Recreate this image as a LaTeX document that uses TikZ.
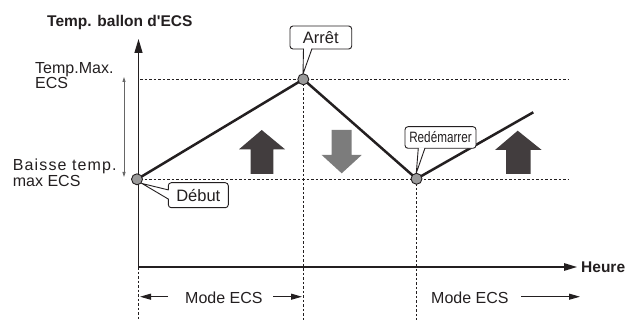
\documentclass[tikz,border=0pt]{standalone}
\usepackage{fontspec}
\setmainfont{Liberation Sans}
\newfontfamily\narrowfont[FakeStretch=0.78]{Liberation Sans}
\newfontfamily\plainfont{Liberation Sans}
\usetikzlibrary{arrows.meta}
\definecolor{darkarrow}{HTML}{423D3E}
\definecolor{grayarrow}{HTML}{7C7C7C}
\definecolor{ptgray}{HTML}{9A9A9A}
\definecolor{ink}{HTML}{231F20}
\begin{document}
\begin{tikzpicture}[x=1pt,y=-1pt,
  lbl/.style={anchor=base west,inner sep=0,text=ink,font=\fontsize{16}{16}\selectfont},
  boldlbl/.style={anchor=base west,inner sep=0,text=ink,font=\fontsize{15.5}{15.5}\selectfont\plainfont\bfseries},
  axis/.style={ink,line width=1.3pt},
  guide/.style={ink,line width=0.9pt,dash pattern=on 2.5pt off 2pt},
  curve/.style={ink,line width=2.5pt,line join=miter},
  pt/.style={circle,fill=ptgray,draw=ink,line width=0.9pt,minimum size=11pt,inner sep=0},
  callbox/.style={fill=white,draw=ink,line width=0.9pt,rounded corners=3pt},
  calltail/.style={draw=ink,line width=0.9pt},
  modearrow/.style={ink,line width=1pt,-{Triangle[length=11pt,width=6pt]}},
  blockup/.style={fill=darkarrow},
  blockdown/.style={fill=grayarrow}
]
\useasboundingbox (0,0) rectangle (626,320);

% coordinates
\coordinate (O) at (138.5,267);
\coordinate (ytop) at (138.5,39);
\coordinate (xend) at (577,267);
\coordinate (start) at (137,179.3);
\coordinate (stop) at (303.3,79.3);
\coordinate (restart) at (416.5,178.8);
\coordinate (lineend) at (533.3,112.3);

% guide lines
\coordinate (gt0) at (140,79.3);
\coordinate (gt1) at (568,79.3);
\coordinate (gb0) at (140,179.3);
\coordinate (gb1) at (568,179.3);
\draw[guide] (gt0) -- (gt1);
\draw[guide] (gb0) -- (gb1);
\coordinate (v1b) at (138.5,320);
\coordinate (v2b) at (303.3,320);
\coordinate (v3b) at (416.5,320);
\draw[guide] (O) -- (v1b);
\draw[guide] (stop) -- (v2b);
\draw[guide] (restart) -- (v3b);

% axes
\draw[axis,-{Triangle[length=14pt,width=8pt]}] (O) -- (ytop);
\draw[axis,-{Triangle[length=13pt,width=7.5pt]}] (O) -- (xend);

% thin double arrow
\coordinate (da1) at (124,177);
\coordinate (da2) at (124,77);
\draw[gray!80!black,line width=0.8pt,{Triangle[length=5pt,width=3pt]}-{Triangle[length=5pt,width=3pt]}] (da1) -- (da2);

% block arrows
\fill[blockup] (261.7,130) -- (285,149.3) -- (273.3,149.3) -- (273.3,174) -- (250.7,174) -- (250.7,149.3) -- (239,149.3) -- cycle;
\fill[blockdown] (341.7,173.3) -- (361.7,155) -- (351.7,155) -- (351.7,130) -- (331.7,130) -- (331.7,155) -- (321.7,155) -- cycle;
\fill[blockup] (517.7,130.7) -- (541.7,150) -- (530.7,150) -- (530.7,174) -- (506,174) -- (506,150) -- (495,150) -- cycle;

% main curve
\draw[curve] (start) -- (stop) -- (restart) -- (lineend);

% callouts
\draw[callbox] (290,26) rectangle (351.7,49);
\fill[white] (303.5,48) -- (303,74) -- (312,48) -- cycle;
\draw[calltail] (303.5,48.6) -- (303,74) -- (312,48.6);
\node[inner sep=0,text=ink,font=\fontsize{16.5}{16.5}\selectfont] (arret) at (320.8,37.5) {Arrêt};

\draw[callbox] (405,126.7) rectangle (476,148.3);
\fill[white] (418.3,147.5) -- (416.3,173) -- (425,147.5) -- cycle;
\draw[calltail] (418.3,148) -- (416.3,173) -- (425,148);
\node[inner sep=0,text=ink,font=\fontsize{15}{15}\narrowfont] (redem) at (440.5,137.5) {Redémarrer};

\draw[callbox] (168.3,182.7) rectangle (228.3,207.7);
\fill[white] (169.2,190) -- (142,183.5) -- (169.2,199.3) -- cycle;
\draw[calltail] (168.7,190) -- (142,183.5) -- (168.7,199.3);
\node[inner sep=0,text=ink,font=\fontsize{16.5}{16.5}\selectfont] (debut) at (198.3,195.2) {Début};

% points
\node[pt] (pstart) at (start) {};
\node[pt] (pstop) at (stop) {};
\node[pt] (prestart) at (restart) {};

% labels
\node[boldlbl] (title) at (47,26.7) {Temp. ballon d'ECS};
\node[boldlbl] (heure) at (581,272.3) {Heure};
\node[lbl] (tmax1) at (35,73.3) {Temp.Max.};
\node[lbl] (tmax2) at (35,88.8) {ECS};
\node[lbl,font=\fontsize{16}{16}\selectfont\addfontfeature{LetterSpace=7}] (bt1) at (12.7,170.7) {Baisse temp.};
\node[lbl] (bt2) at (12.7,186.7) {max ECS};

% modes
\node[lbl] (mode1) at (185,303.3) {Mode ECS};
\node[lbl] (mode2) at (431,303.3) {Mode ECS};
\coordinate (m1a) at (168,296.7);
\coordinate (m1b) at (140,296.7);
\coordinate (m1c) at (273,296.7);
\coordinate (m1d) at (302,296.7);
\coordinate (m2a) at (521,296.7);
\coordinate (m2b) at (580,296.7);
\draw[modearrow] (m1a) -- (m1b);
\draw[modearrow] (m1c) -- (m1d);
\draw[modearrow] (m2a) -- (m2b);
\end{tikzpicture}
\end{document}
